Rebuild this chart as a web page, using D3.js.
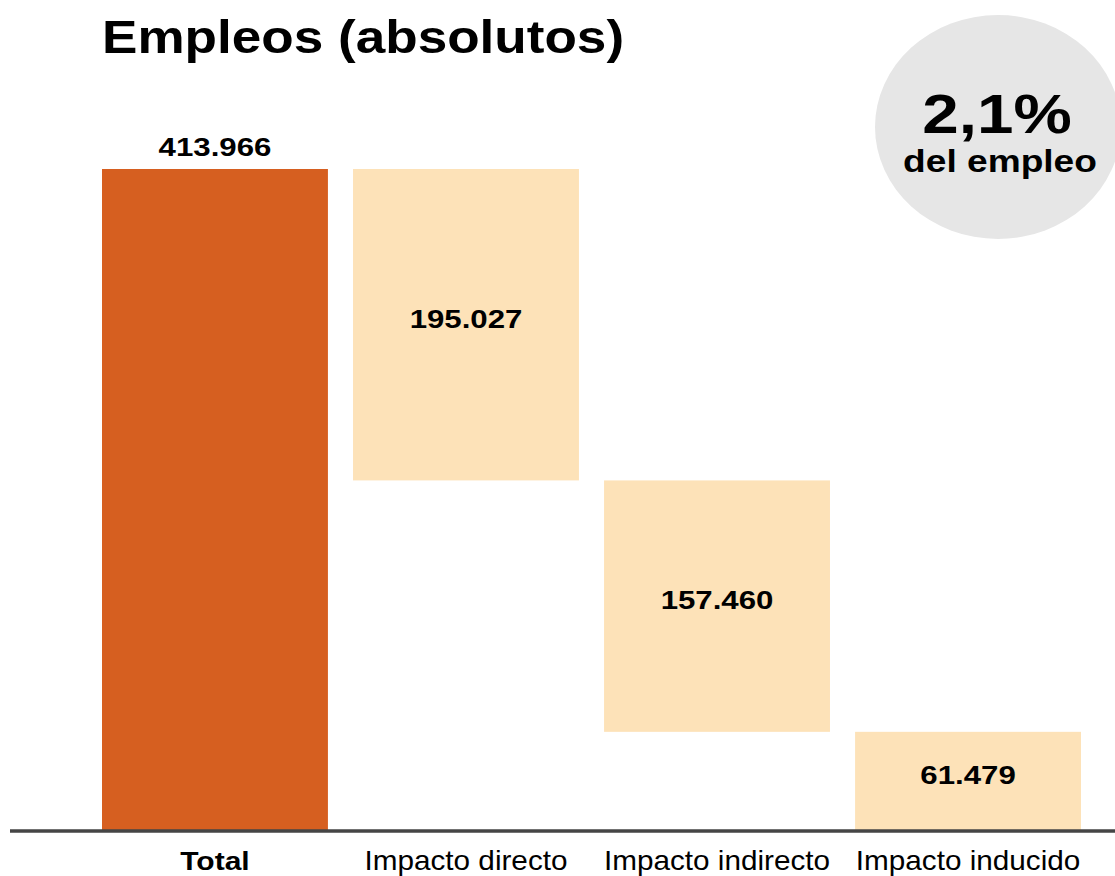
<!DOCTYPE html>
<html>
<head>
<meta charset="utf-8">
<script src="https://cdn.jsdelivr.net/npm/d3@7/dist/d3.min.js"></script>
<style>
  html, body { margin: 0; padding: 0; background: #fff; }
  svg { display: block; }
  text { font-family: "Liberation Sans", Arial, sans-serif; fill: #000; }
</style>
</head>
<body>
<div id="chart"></div>
<script>
// Employment impact, broken down as a waterfall
const categories = ["Total", "Impacto directo", "Impacto indirecto", "Impacto inducido"];
const values = [413966, 195027, 157460, 61479];
const valueLabels = ["413.966", "195.027", "157.460", "61.479"];
const title = "Empleos (absolutos)";
const badgeValue = "2,1%";
const badgeText = "del empleo";

const W = 1115, H = 876;
const svg = d3.select("#chart").append("svg").attr("width", W).attr("height", H);

const x = d3.scaleBand().domain(categories).range([102, 1081]).paddingInner(0.1).paddingOuter(0);
const y = d3.scaleLinear().domain([0, values[0]]).range([830, 169]);

// Wide grotesque look: regular sans, stretched horizontally around its anchor
function label(parent, px, py, str, size, weight, sx, anchor) {
  return parent.append("text")
    .attr("transform", `translate(${px},${py}) scale(${sx},1)`)
    .attr("text-anchor", anchor || "middle")
    .attr("font-size", size)
    .attr("font-weight", weight)
    .text(str);
}

// Waterfall segments: total from zero, components stacked downward from the total
let running = values[0];
const segs = categories.map((c, i) => {
  if (i === 0) return { c, lo: 0, hi: values[0], i };
  const hi = running;
  running -= values[i];
  return { c, lo: running, hi, i };
});

// Badge
svg.append("ellipse")
  .attr("cx", 998).attr("cy", 127).attr("rx", 123).attr("ry", 112)
  .attr("fill", "#e6e6e6");
label(svg, 997, 133, badgeValue, 56, "bold", 1.17);
label(svg, 1000, 172, badgeText, 32, "bold", 1.16);

// Title
label(svg, 102, 53, title, 47, "bold", 1.13, "start");

// Bars
svg.selectAll("rect.bar").data(segs).enter().append("rect")
  .attr("class", "bar")
  .attr("x", d => x(d.c))
  .attr("width", x.bandwidth())
  .attr("y", d => y(d.hi))
  .attr("height", d => y(d.lo) - y(d.hi))
  .attr("fill", d => d.i === 0 ? "#d65f20" : "#fde2b8");

// Value labels: total above its bar, components inside
segs.forEach(d => {
  const cx = x(d.c) + x.bandwidth() / 2;
  const cy = d.i === 0 ? y(d.hi) - 13 : (y(d.hi) + y(d.lo)) / 2 + 3;
  label(svg, cx, cy, valueLabels[d.i], 26, "bold", 1.2);
});

// Baseline
svg.append("line").attr("x1", 10).attr("x2", W).attr("y1", 831).attr("y2", 831)
  .attr("stroke", "#454545").attr("stroke-width", 3.5);

// Category labels
const xAxis = d3.axisBottom(x).tickSize(0).tickPadding(0);
const gx = svg.append("g").attr("transform", "translate(0,870)").call(xAxis);
gx.select(".domain").remove();
gx.selectAll("text")
  .attr("y", 0).attr("dy", 0)
  .attr("font-size", (d, i) => i === 0 ? 25 : 27)
  .attr("transform", (d, i) => `scale(${i === 0 ? 1.2 : 1.1},1)`)
  .style("font-family", '"Liberation Sans", Arial, sans-serif')
  .attr("fill", "#000")
  .attr("font-weight", (d, i) => i === 0 ? "bold" : "normal");
</script>
</body>
</html>
